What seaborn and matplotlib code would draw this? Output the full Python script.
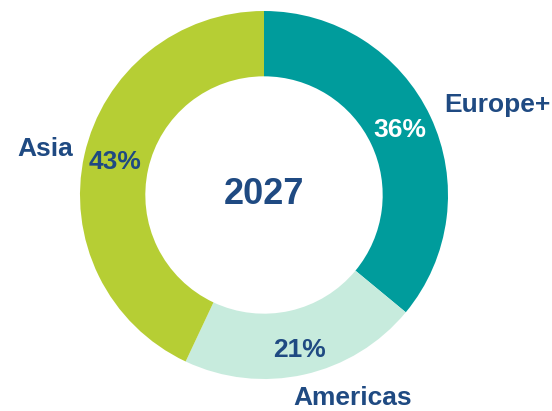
import matplotlib.pyplot as plt
import seaborn as sns

# donut data
regions = ['Europe+', 'Americas', 'Asia']
shares = [36, 21, 43]
pct_labels = ['36%', '21%', '43%']
center_label = '2027'

colors = ['#009C9C', '#C7EBDD', '#B6CE34']
navy = '#1F4A82'

sns.set_theme(style="white")
plt.rcParams['font.family'] = ['Liberation Sans', 'DejaVu Sans']

fig = plt.figure(figsize=(5.52, 4.11), dpi=100)
ax = fig.add_axes([0, 0, 1, 1])

H = 411
cx, cy, r = 264, H - 195, 184

ax.pie(shares, colors=colors, startangle=90, counterclock=False,
       center=(cx, cy), radius=r, frame=True,
       wedgeprops=dict(width=r * 0.355, linewidth=0))
ax.set_xlim(0, 552)
ax.set_ylim(0, 411)
ax.set_aspect('equal')
ax.axis('off')

# percent labels (pixel positions)
pct_pos = [(400, 130), (299, 350), (115, 162)]
pct_col = ['white', navy, navy]
for txt, (x, y), c in zip(pct_labels, pct_pos, pct_col):
    ax.text(x, H - y, txt, ha='center', va='center', fontsize=19,
            fontweight='bold', color=c)

# region names outside the ring
name_pos = [(497, 105), (353, 398), (45, 149)]
for txt, (x, y) in zip(regions, name_pos):
    ax.text(x, H - y, txt, ha='center', va='center', fontsize=19,
            fontweight='bold', color=navy)

ax.text(cx, cy, center_label, ha='center', va='center', fontsize=26,
        fontweight='bold', color=navy)

fig.savefig('out.png', dpi=100)
